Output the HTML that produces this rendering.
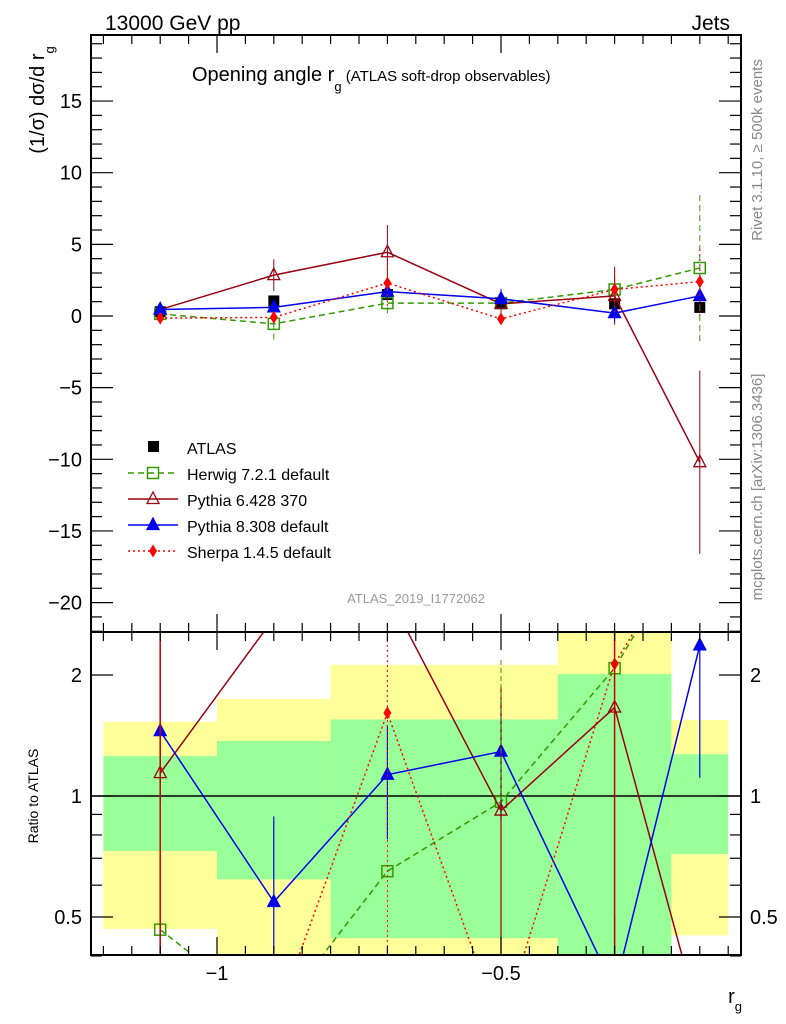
<!DOCTYPE html>
<html><head><meta charset="utf-8"><style>
html,body{margin:0;padding:0;background:#fff;width:786px;height:1024px;overflow:hidden;}
svg{display:block;font-family:"Liberation Sans",sans-serif;}
</style></head><body>
<svg id="c" width="786" height="1024" viewBox="0 0 786 1024" xmlns="http://www.w3.org/2000/svg">
<g id="bands"></g>
<g id="marks"></g>
<g id="axes"></g>
<text x="105" y="30" font-size="21">13000 GeV pp</text>
<text x="730" y="30" font-size="21" text-anchor="end">Jets</text>
<text x="192" y="81" font-size="20">Opening angle r<tspan font-size="13" dy="10">g</tspan><tspan font-size="15" dy="-10"> (ATLAS soft-drop observables)</tspan></text>
<text transform="translate(44,100) rotate(-90)" font-size="20" text-anchor="middle">(1/σ) dσ/d r<tspan font-size="13" dy="10">g</tspan></text>
<text transform="translate(38,796) rotate(-90)" font-size="14" text-anchor="middle">Ratio to ATLAS</text>
<text x="742" y="1003" font-size="20" text-anchor="end">r<tspan font-size="13" dy="8">g</tspan></text>
<text transform="translate(762,150) rotate(-90)" font-size="15" fill="#888" text-anchor="middle">Rivet 3.1.10, ≥ 500k events</text>
<text transform="translate(762,487) rotate(-90)" font-size="15" fill="#888" text-anchor="middle">mcplots.cern.ch [arXiv:1306.3436]</text>
<text x="416" y="603" font-size="13" fill="#999" text-anchor="middle">ATLAS_2019_I1772062</text>
<g id="legend"></g>
</svg>
<script>
const xs=[-1.1,-0.9,-0.7,-0.5,-0.3,-0.15];
const binEdges=[-1.2,-1.0,-0.8,-0.6,-0.4,-0.2,-0.1];
const atlas=[0.3,1.05,1.5,0.85,0.85,0.6];
const atlasErr=[0.3,0.3,0.3,0.3,0.3,0.3];
const herwig=[0.15,-0.55,0.9,0.9,1.85,3.35];
const herwigErr=[0.6,1.1,0.7,1.0,1.0,5.1];
const py6=[0.45,2.85,4.45,0.85,1.4,-10.2];
const py6Err=[0.5,1.1,1.9,0.8,2.0,6.4];
const py8=[0.45,0.6,1.7,1.2,0.2,1.4];
const py8Err=[0.5,0.5,0.5,0.7,0.6,0.5];
const sherpa=[-0.15,-0.1,2.3,-0.2,1.85,2.4];
const sherpaErr=[0.3,0.3,1.6,0.3,1.6,2.4];
const rHerwig=[0.465,0.28,0.65,0.967,2.08,4.7];
const rPy6=[1.14,2.77,3.2,0.92,1.66,0.276];
const rPy8=[1.45,0.545,1.13,1.29,0.33,2.37];
const rPy8Lo=[0.96,0.3,0.78,0.87,0.2,1.11];
const rPy8Hi=[1.97,0.89,1.5,1.72,0.5,3.0];
const rSherpa=[-1,0.27,1.61,0.265,2.13,4.8];
const totLo=[0.467,0.38,0.38,0.38,0.38,0.45];
const totHi=[1.53,1.743,2.12,2.12,2.6,1.545];
const statLo=[0.73,0.62,0.443,0.443,0.38,0.717];
const statHi=[1.257,1.37,1.55,1.55,2.01,1.27];
const yTicks=[-20,-15,-10,-5,0,5,10,15];
const rTicks=[0.5,1,2];
const xTickLabels=[-1,-0.5];

const L=91,R=741,T=35,M=632,B=955;
const X=v=>217+(v+1)*568;
const Y=v=>316-14.33*v;
const RY=r=>796-121*Math.log2(r);
const NS="http://www.w3.org/2000/svg";
function mk(p,tag,at){const e=document.createElementNS(NS,tag);for(const k in at)e.setAttribute(k,at[k]);p.appendChild(e);return e;}
const bands=document.getElementById('bands'),marks=document.getElementById('marks'),axes=document.getElementById('axes'),leg=document.getElementById('legend');
const cl=v=>Math.max(M,Math.min(B,v));
for(let i=0;i<xs.length;i++){
 const x0=X(binEdges[i]),x1=X(binEdges[i+1]);
 let r=mk(bands,'rect',{x:x0,y:cl(RY(totHi[i])),width:x1-x0,height:cl(RY(totLo[i]))-cl(RY(totHi[i])),fill:'#ffff99'});
 
 
 r=mk(bands,'rect',{x:x0,y:cl(RY(statHi[i])),width:x1-x0,height:cl(RY(statLo[i]))-cl(RY(statHi[i])),fill:'#99ff99'});
 
 
}
mk(bands,'line',{x1:L,x2:R,y1:796,y2:796,stroke:'#000','stroke-width':1.5});
const defs=mk(document.getElementById('c'),'defs',{});
const c1=mk(defs,'clipPath',{id:'cm'});mk(c1,'rect',{x:L,y:T,width:R-L,height:M-T});
const c2=mk(defs,'clipPath',{id:'cr'});mk(c2,'rect',{x:L,y:M,width:R-L,height:B-M});
const gm=mk(marks,'g',{'clip-path':'url(#cm)'}),gr=mk(marks,'g',{'clip-path':'url(#cr)'});
function marker(g,type,x,y,col,s){
 if(type==='sq')return mk(g,'rect',{x:x-5.5,y:y-5.5,width:11,height:11,fill:s?col:'none',stroke:col,'stroke-width':1.5});
 if(type==='tri')return mk(g,'path',{d:`M${x},${y-7}L${x+6},${y+4.5}L${x-6},${y+4.5}Z`,fill:s?col:'none',stroke:col,'stroke-width':1.3});
 if(type==='dia')return mk(g,'path',{d:`M${x},${y-6.5}L${x+4},${y}L${x},${y+6.5}L${x-4},${y}Z`,fill:col});
}
const series=[
 {n:'herwig',v:herwig,e:herwigErr,r:rHerwig,c:'#339900',d:'6,4',m:'sq',f:false,lab:'Herwig 7.2.1 default'},
 {n:'pythia6',v:py6,e:py6Err,r:rPy6,c:'#990011',d:'',m:'tri',f:false,lab:'Pythia 6.428 370'},
 {n:'pythia8',v:py8,e:py8Err,r:rPy8,c:'#0000ee',d:'',m:'tri',f:true,lab:'Pythia 8.308 default'},
 {n:'sherpa',v:sherpa,e:sherpaErr,r:rSherpa,c:'#ff0000',d:'2,3',m:'dia',f:true,lab:'Sherpa 1.4.5 default'}];
for(let i=0;i<xs.length;i++){
 mk(gm,'line',{x1:X(xs[i]),x2:X(xs[i]),y1:Y(atlas[i]-atlasErr[i]),y2:Y(atlas[i]+atlasErr[i]),stroke:'#000'});
 const p=mk(gm,'rect',{x:X(xs[i])-5.5,y:Y(atlas[i])-5.5,width:11,height:11,fill:'#000'});
 
 
}
series.forEach(s=>{
 const pts=xs.map((x,i)=>X(x)+','+Y(s.v[i])).join(' ');
 const pl=mk(gm,'polyline',{points:pts,fill:'none',stroke:s.c,'stroke-width':1.5,'stroke-dasharray':s.d});
 
 
 xs.forEach((x,i)=>{
  mk(gm,'line',{x1:X(x),x2:X(x),y1:Y(s.v[i]-s.e[i]),y2:Y(s.v[i]+s.e[i]),stroke:s.c,'stroke-dasharray':s.d});
  const m=marker(gm,s.m,X(x),Y(s.v[i]),s.c,s.f);
  
  
 });
 const rp=xs.map((x,i)=>s.r[i]>0?X(x)+','+RY(s.r[i]):null);
 let seg=[];const segs=[];rp.forEach(p=>{if(p)seg.push(p);else{if(seg.length)segs.push(seg);seg=[];}});if(seg.length)segs.push(seg);
 segs.forEach(sg=>{const l=mk(gr,'polyline',{points:sg.join(' '),fill:'none',stroke:s.c,'stroke-width':1.5,'stroke-dasharray':s.d});
  
  });
 xs.forEach((x,i)=>{if(s.r[i]<=0)return;
  if(s.n==='pythia8')mk(gr,'line',{x1:X(x),x2:X(x),y1:RY(rPy8Lo[i]),y2:RY(rPy8Hi[i]),stroke:s.c,'stroke-width':1.2});
  const m=marker(gr,s.m,X(x),RY(s.r[i]),s.c,s.f);
  
  });
});
[X(-1.1),X(-0.3)].forEach(x=>mk(gr,'line',{x1:x,x2:x,y1:M,y2:B,stroke:'#cc0000','stroke-width':1.5}));
mk(gr,'line',{x1:X(-0.5),x2:X(-0.5),y1:687,y2:B,stroke:'#990011','stroke-width':1.2});
mk(gr,'line',{x1:X(-0.5),x2:X(-0.5),y1:660,y2:800,stroke:'#339900','stroke-dasharray':'5,3'});
mk(gr,'line',{x1:X(-0.7),x2:X(-0.7),y1:640,y2:B,stroke:'#ff0000','stroke-dasharray':'2,3'});
mk(axes,'rect',{x:L,y:T,width:R-L,height:M-T,fill:'none',stroke:'#000','stroke-width':2});
mk(axes,'rect',{x:L,y:M,width:R-L,height:B-M,fill:'none',stroke:'#000','stroke-width':2});
for(let k=-24;k<=-1;k++){const v=k*0.05,x=X(v);if(x<L||x>R)continue;const big=Math.abs(k%10)===0;const h=big?18:9;
 [[T,T+h],[M,M-h],[M,M+h],[B,B-h]].forEach(a=>mk(axes,'line',{x1:x,x2:x,y1:a[0],y2:a[1],stroke:'#000','stroke-width':1.2}));}
xTickLabels.forEach(v=>{const t=mk(axes,'text',{x:X(v),y:980,'font-size':20,'text-anchor':'middle'});t.textContent=(v<0?'−':'')+Math.abs(v);
 
 });
for(let v=-22;v<=19;v++){const y=Y(v);if(y<T||y>M)continue;const big=v%5===0;const h=big?22:11;
 mk(axes,'line',{x1:L,x2:L+h,y1:y,y2:y,stroke:'#000','stroke-width':1.2});mk(axes,'line',{x1:R,x2:R-h,y1:y,y2:y,stroke:'#000','stroke-width':1.2});}
yTicks.forEach(v=>{const t=mk(axes,'text',{x:82,y:Y(v)+7,'font-size':20,'text-anchor':'end'});t.textContent=(v<0?'−':'')+Math.abs(v);
 
 });
[0.4,0.5,0.6,0.7,0.8,0.9,1,2].forEach(v=>{const y=RY(v);const big=rTicks.includes(v);const h=big?22:11;
 mk(axes,'line',{x1:L,x2:L+h,y1:y,y2:y,stroke:'#000','stroke-width':1.2});mk(axes,'line',{x1:R,x2:R-h,y1:y,y2:y,stroke:'#000','stroke-width':1.2});});
rTicks.forEach(v=>{[[82,'end'],[750,'start']].forEach(a=>{const t=mk(axes,'text',{x:a[0],y:RY(v)+7,'font-size':20,'text-anchor':a[1]});t.textContent=v;
 
 });});
const ly=[447,473,499,525,551];
mk(leg,'rect',{x:148,y:441,width:11,height:11,fill:'#000'});
let t0=mk(leg,'text',{x:187,y:454,'font-size':16});t0.textContent='ATLAS';


series.forEach((s,i)=>{const y=ly[i+1];
 mk(leg,'line',{x1:128,x2:178,y1:y,y2:y,stroke:s.c,'stroke-width':1.5,'stroke-dasharray':s.d});
 marker(leg,s.m,153,y,s.c,s.f);
 const t=mk(leg,'text',{x:187,y:y+7,'font-size':16});t.textContent=s.lab;
 
 });
</script>
</body></html>
